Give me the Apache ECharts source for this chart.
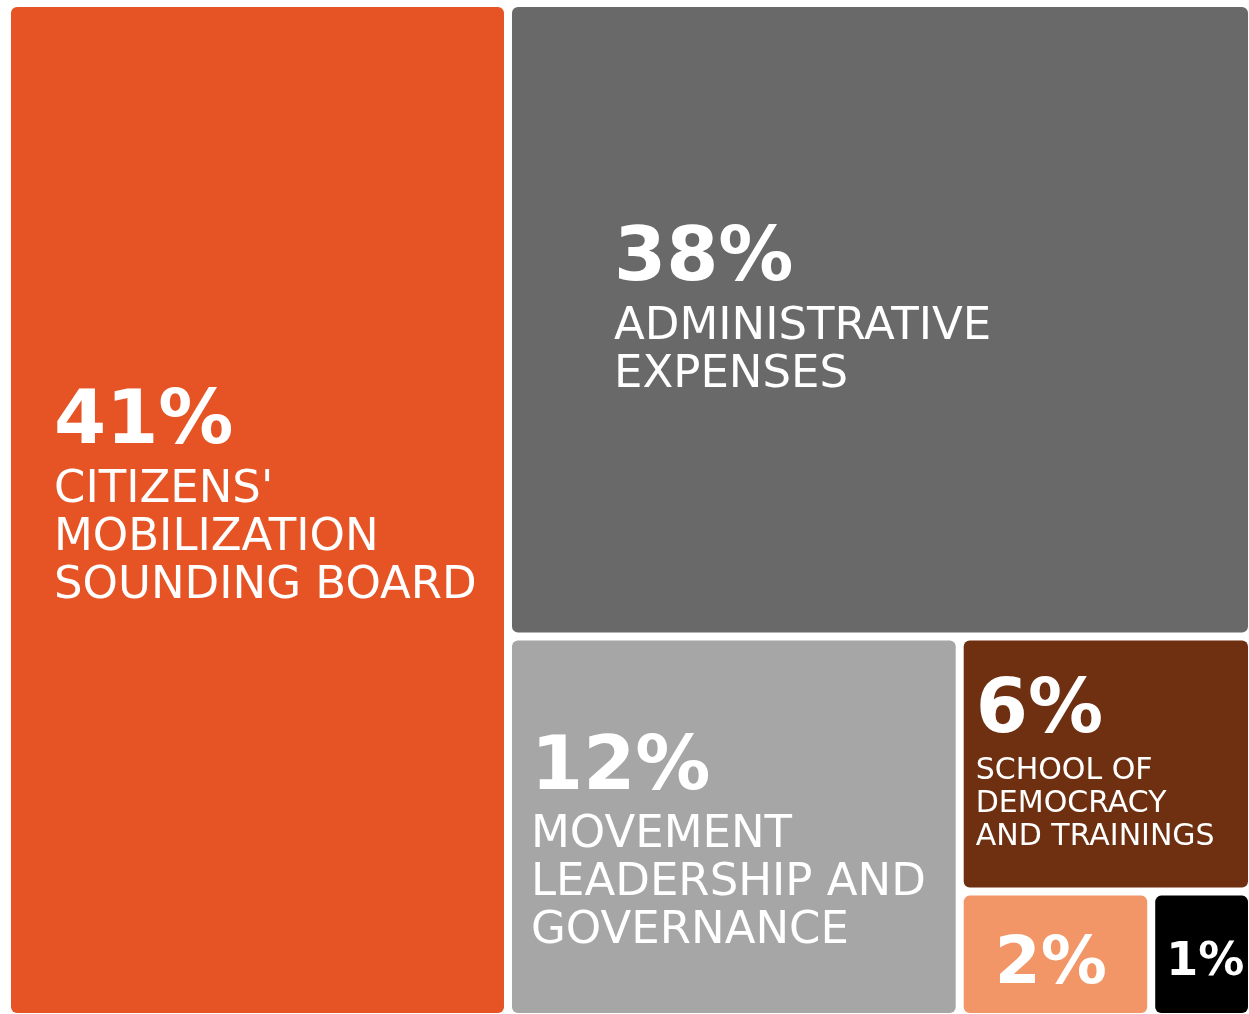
<!DOCTYPE html>
<html>
<head>
<meta charset="utf-8">
<script src="https://cdn.jsdelivr.net/npm/echarts@6/dist/echarts.min.js"></script>
<style>
    html, body { margin: 0; padding: 0; background: #fff; }
    #container { width: 1249px; height: 1014px; }
</style>
</head>
<body>
<div id="container"></div>
<script>
// budget shares, read from the block areas
var shares = [40.2, 37.3, 13.6, 5.9, 1.9, 1.0];
var pctLabels = ['41%', '38%', '12%', '6%', '2%', '1%'];
var titles = [
    "CITIZENS'\nMOBILIZATION\nSOUNDING BOARD",
    'ADMINISTRATIVE\nEXPENSES',
    'MOVEMENT\nLEADERSHIP AND\nGOVERNANCE',
    'SCHOOL OF\nDEMOCRACY\nAND TRAININGS',
    '',
    ''
];
var colors = ['#e65324', '#696969', '#a6a6a6', '#6e3011', '#f29667', '#000000'];

// where each label starts inside its block (px from the block's top left)
var labelPlacement = [
    { position: [43, 374], pct: 'pctL', name: 'nameL' },
    { position: [102, 211], pct: 'pctL', name: 'nameL' },
    { position: [19, 86], pct: 'pctL', name: 'nameL' },
    { position: [12, 29], pct: 'pctL', name: 'nameS' },
    { position: [31, 30], pct: 'pctM', name: 'nameS' },
    { position: [11, 39], pct: 'pctS', name: 'nameS' }
];

var fontFamily = 'DejaVu Sans';

function buildLabel(p) {
    var d = p.data;
    var lines = ['{' + d.pctStyle + '|' + d.pct + '}'];
    if (d.title) {
        d.title.split('\n').forEach(function (line) {
            lines.push('{' + d.nameStyle + '|' + line + '}');
        });
    }
    return lines.join('\n');
}

var treeData = shares.map(function (v, i) {
    var lp = labelPlacement[i];
    return {
        name: 'item' + i,
        value: v,
        pct: pctLabels[i],
        title: titles[i],
        pctStyle: lp.pct,
        nameStyle: lp.name,
        itemStyle: { color: colors[i] },
        label: { position: lp.position }
    };
});

var myChart = echarts.init(document.getElementById('container'), null, { renderer: 'canvas' });

myChart.setOption({
    animation: false,
    backgroundColor: '#fff',
    series: [{
        type: 'treemap',
        left: 11,
        top: 7,
        right: 1,
        bottom: 1,
        roam: false,
        nodeClick: false,
        squareRatio: 0.8,
        sort: 'desc',
        drillDownIcon: '',
        breadcrumb: { show: false },
        itemStyle: {
            gapWidth: 8,
            borderWidth: 0,
            borderColor: '#fff',
            borderRadius: 6
        },
        upperLabel: { show: false },
        emphasis: { disabled: true },
        label: {
            show: true,
            color: '#fff',
            padding: 0,
            overflow: 'none',
            align: 'left',
            verticalAlign: 'top',
            formatter: buildLabel,
            rich: {
                pctL: { fontFamily: fontFamily, fontWeight: 'bold', fontSize: 75, lineHeight: 85, color: '#fff' },
                pctM: { fontFamily: fontFamily, fontWeight: 'bold', fontSize: 66, lineHeight: 80, color: '#fff' },
                pctS: { fontFamily: fontFamily, fontWeight: 'bold', fontSize: 46, lineHeight: 56, color: '#fff' },
                nameL: { fontFamily: fontFamily, fontSize: 45, lineHeight: 48, color: '#fff' },
                nameS: { fontFamily: fontFamily, fontSize: 30, lineHeight: 33, color: '#fff' }
            }
        },
        data: treeData
    }]
});
</script>
</body>
</html>
